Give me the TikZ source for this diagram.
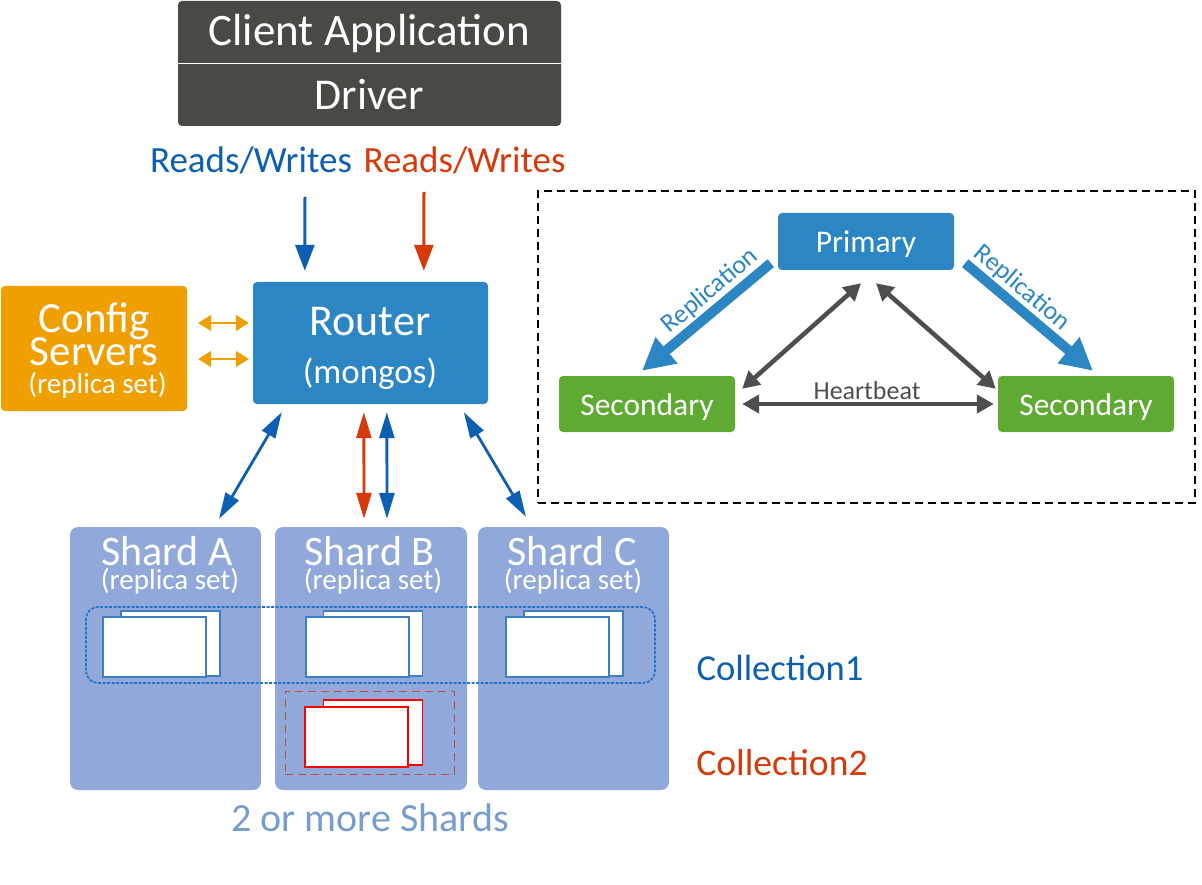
\documentclass[tikz,border=0pt]{standalone}
\usepackage{fontspec}
\setmainfont{Carlito}
\usetikzlibrary{arrows.meta,calc}
\definecolor{cDark}{HTML}{4A4945}
\definecolor{cBlue}{HTML}{2B86C3}
\definecolor{cOrange}{HTML}{F09F00}
\definecolor{cGreen}{HTML}{5FAA32}
\definecolor{cShard}{HTML}{90A9DA}
\definecolor{cArrow}{HTML}{0D5FB3}
\definecolor{cRed}{HTML}{D63A0A}
\definecolor{cGray}{HTML}{4F4D4D}
\definecolor{cMore}{HTML}{769DCF}
\definecolor{cDash}{HTML}{B8503F}
\newcommand{\fs}[1]{\fontsize{#1}{#1}\selectfont}
\tikzset{
  x=1pt,y=-1pt,
  boxstyle/.style={rounded corners=4pt,inner sep=0pt,text=white,anchor=center},
  txt/.style={inner sep=0pt,anchor=base,text=white},
  docblue/.style={draw=#1,line width=1.2pt,fill=white,inner sep=0pt,minimum width=103pt,minimum height=60pt},
  docback/.style={draw=#1,line width=1.2pt,fill=white,inner sep=0pt,minimum width=99pt,minimum height=65pt},
  bi/.style={line width=2.8pt,{Triangle[length=26pt,width=15pt]}-{Triangle[length=26pt,width=15pt]},draw=#1,color=#1},
  orangearrow/.style={draw=cOrange,color=cOrange,line width=2pt,{Triangle[length=13pt,width=16pt]}-{Triangle[length=13pt,width=16pt]}},
  graybi/.style={draw=cGray,color=cGray,line width=4.5pt,{Triangle[length=17pt,width=18pt]}-{Triangle[length=17pt,width=18pt]}},
  down/.style={draw=#1,color=#1,line width=3pt,-{Triangle[length=26pt,width=19pt]}},
  repl/.style={draw=cBlue,color=cBlue,line width=10pt,-{Triangle[length=32pt,width=32pt]}},
}
\begin{document}
\begin{tikzpicture}
\useasboundingbox (0,0) rectangle (1202,885);
% client and driver form one stack split by a thin line
\node[boxstyle,fill=cDark,minimum width=383pt,minimum height=125pt] (stack) at (369.5,63.5) {};
\draw[white,line width=1pt] ($(stack.west)+(0,0.5)$) -- ($(stack.east)+(0,0.5)$);
\node[txt,font=\fs{45}] (clienttxt) at (369.5,46) {Client Application};
\node[txt,font=\fs{44}] (drivertxt) at (369.5,110) {Driver};
\node[txt,font=\fs{37},text=cArrow] (rwblue) at (251,173) {Reads/Writes};
\node[txt,font=\fs{37},text=cRed] (rwred) at (464.5,173) {Reads/Writes};
% router, config
\node[boxstyle,fill=cBlue,minimum width=235pt,minimum height=122pt] (router) at (370.5,343) {};
\node[txt,font=\fs{44}] (routertxt) at (370,335) {Router};
\node[txt,font=\fs{35}] (mongostxt) at (370,383) {(mongos)};
\node[boxstyle,fill=cOrange,minimum width=186pt,minimum height=125pt] (config) at (94,348.5) {};
\node[txt,font=\fs{43}] (configtxt) at (94,333) {Config};
\node[txt,font=\fs{43}] (serverstxt) at (94,365) {Servers};
\node[txt,font=\fs{29}] (configrs) at (97.5,393) {(replica set)};
% arrows top
\draw[down=cArrow] ($(rwblue.south)+(54,22)$) -- ($(router.north west)+(52,-11)$);
\draw[down=cRed] ($(rwred.south)+(-40.5,17)$) -- ($(router.north west)+(171,-11)$);
\draw[orangearrow] ($(config.east)+(11,-25.5)$) -- ($(router.west)+(-4,-20)$);
\draw[orangearrow] ($(config.east)+(11,10.5)$) -- ($(router.west)+(-4,16)$);
% shards
\node[boxstyle,rounded corners=8pt,fill=cShard,minimum width=191pt,minimum height=263pt] (shardA) at (165.5,658.5) {};
\node[boxstyle,rounded corners=8pt,fill=cShard,minimum width=192pt,minimum height=263pt] (shardB) at (371,658.5) {};
\node[boxstyle,rounded corners=8pt,fill=cShard,minimum width=191pt,minimum height=263pt] (shardC) at (573.5,658.5) {};
\foreach \l/\cx/\rx/\nm in {Shard A/167/170/a,Shard B/369.5/373/b,Shard C/572/573/c}{
  \node[txt,font=\fs{42}] (title\nm) at (\cx,565) {\l};
  \node[txt,font=\fs{29}] (rs\nm) at (\rx,589) {(replica set)};
}
\draw[bi=cArrow] ($(router.south west)+(29,8)$) -- ($(shardA.north)+(53.5,-8)$);
\draw[bi=cRed] ($(router.south west)+(111,8)$) -- ($(shardB.north)+(-7,-8)$);
\draw[bi=cArrow] ($(router.south west)+(134,8)$) -- ($(shardB.north)+(16,-8)$);
\draw[bi=cArrow] ($(router.south west)+(211,8)$) -- ($(shardC.north)+(-47.5,-10)$);
% docs
\node[docback=cArrow!80!white] (a2) at (170.5,643.5) {};
\node[docblue=cArrow!80!white] (a1) at (154.5,647) {};
\node[docback=cArrow!80!white] (b2) at (373,643.5) {};
\node[docblue=cArrow!80!white] (b1) at (357.5,647) {};
\node[docback=cArrow!80!white] (c2) at (573.5,643.5) {};
\node[docblue=cArrow!80!white] (c1) at (557.5,647) {};
\node[docback=red] (r2) at (373,732.5) {};
\node[docblue=red] (r1) at (356.5,737) {};
\node[draw=cBlue!85!blue,dash pattern=on 3pt off 1.5pt,line width=1.8pt,rounded corners=12pt,inner sep=0pt,minimum width=569pt,minimum height=76pt] (coll1box) at (370.5,645) {};
\node[draw=cDash,dash pattern=on 8pt off 5pt,line width=1pt,inner sep=0pt,minimum width=169pt,minimum height=83pt] (coll2box) at (369.5,732.5) {};
\node[txt,font=\fs{36.6},text=cArrow] (coll1) at (780,680) {Collection1};
\node[txt,font=\fs{37.6},text=cRed] (coll2) at (782,775) {Collection2};
\node[txt,font=\fs{40},text=cMore] (more) at (370,831) {2 or more Shards};
% replica set panel
\node[draw=black,dash pattern=on 8pt off 5pt,line width=1.1pt,inner sep=0pt,minimum width=657pt,minimum height=312pt] (panel) at (866.5,347) {};
\node[boxstyle,fill=cBlue,minimum width=176pt,minimum height=57pt] (primary) at (866,241.5) {};
\node[txt,font=\fs{31.5}] (primarytxt) at (866,253) {Primary};
\node[boxstyle,fill=cGreen,minimum width=176pt,minimum height=56pt] (sec1) at (647,404) {};
\node[txt,font=\fs{31.5}] (sec1txt) at (647,415) {Secondary};
\node[boxstyle,fill=cGreen,minimum width=176pt,minimum height=56pt] (sec2) at (1086,404) {};
\node[txt,font=\fs{31.5}] (sec2txt) at (1086,415) {Secondary};
\draw[repl] ($(primary.south west)+(-7,-7)$) -- ($(sec1.north)+(-5,-5)$);
\draw[repl] ($(primary.south east)+(11,-7)$) -- ($(sec2.north)+(7,-5)$);
\node[font=\fs{26},text=cBlue,rotate=40,inner sep=0pt] (repl1) at (710,291) {Replication};
\node[font=\fs{26},text=cBlue,rotate=-40,inner sep=0pt] (repl2) at (1022,288) {Replication};
\draw[graybi] ($(primary.south)+(-5,13)$) -- ($(sec1.north east)+(7,13)$);
\draw[graybi] ($(primary.south)+(10,13)$) -- ($(sec2.north west)+(-2,13)$);
\draw[graybi] ($(sec1.east)+(7,0)$) -- ($(sec2.west)+(-4,0)$);
\node[txt,font=\fs{26},text=cGray] (hb) at (867,399) {Heartbeat};
\end{tikzpicture}
\end{document}
